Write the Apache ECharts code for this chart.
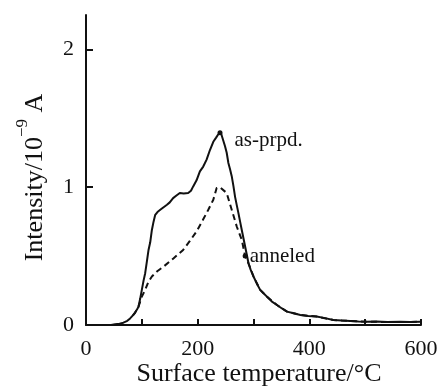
<!DOCTYPE html>
<html>
<head>
<meta charset="utf-8">
<script src="https://cdn.jsdelivr.net/npm/echarts@6/dist/echarts.min.js"></script>
<style>
  html, body { margin: 0; padding: 0; background: #fff; }
  #main { width: 441px; height: 386px; }
</style>
</head>
<body>
<div id="main"></div>
<script>
var chartDom = document.getElementById("main");
var myChart = echarts.init(chartDom);
var option;

// [surface temperature (°C), intensity (10^-9 A)]
const asPrpd = [
  [45, 0.0], [52, 0.005], [60, 0.01], [67, 0.017], [74, 0.03], [79, 0.048],
  [84, 0.07], [88, 0.09], [91, 0.11], [94, 0.133], [97, 0.19], [100, 0.255],
  [103, 0.32], [106, 0.376], [109, 0.46], [112, 0.545], [115, 0.6], [118, 0.69],
  [121, 0.75], [124, 0.8], [128, 0.82], [133, 0.836], [139, 0.855], [145, 0.873],
  [150, 0.89], [156, 0.921], [162, 0.94], [168, 0.958], [175, 0.955], [183, 0.958],
  [188, 0.975], [192, 1.006], [198, 1.05], [204, 1.115], [210, 1.15], [216, 1.2],
  [222, 1.27], [228, 1.33], [233, 1.36], [237, 1.385], [240, 1.395], [242, 1.39],
  [245, 1.35], [249, 1.297], [252, 1.25], [255, 1.176], [258, 1.13], [261, 1.08],
  [264, 1.01], [267, 0.93], [270, 0.87], [273, 0.812], [276, 0.75], [279, 0.69],
  [282, 0.63], [285, 0.57], [288, 0.51], [291, 0.448], [295, 0.4], [300, 0.352],
  [306, 0.3], [312, 0.255], [318, 0.23], [324, 0.206], [333, 0.17], [342, 0.145],
  [351, 0.12], [360, 0.097], [372, 0.085], [384, 0.073], [398, 0.066], [413, 0.061],
  [428, 0.05], [443, 0.036], [458, 0.032], [473, 0.029], [488, 0.026], [503, 0.024],
  [520, 0.025], [540, 0.022], [563, 0.024], [580, 0.022], [599, 0.024]
];
const anneled = [
  [84, 0.07], [88, 0.09], [94, 0.133], [100, 0.206], [106, 0.255], [112, 0.315],
  [118, 0.352], [127, 0.388], [139, 0.424], [157, 0.485], [174, 0.545], [186, 0.61],
  [198, 0.679], [209, 0.76], [219, 0.836], [228, 0.909], [234, 0.994], [240, 1.0],
  [243, 0.994], [252, 0.958], [261, 0.836], [270, 0.715], [279, 0.618], [285, 0.5],
  [291, 0.448], [300, 0.352], [312, 0.255], [324, 0.206], [342, 0.145], [360, 0.097],
  [384, 0.073], [413, 0.061], [443, 0.036], [473, 0.029], [503, 0.024], [540, 0.022],
  [580, 0.022], [599, 0.024]
];
const xLabels = [0, 200, 400, 600];
const yLabels = [0, 1, 2];
const asPrpdMark = [240, 1.395];
const anneledMark = [285, 0.5];

const font = "Liberation Serif";
const ink = "#111";

option = {
  animation: false,
  backgroundColor: "#fff",
  grid: {
    left: 86,
    right: 20,
    top: 15,
    bottom: 61,
    containLabel: false,
    outerBoundsMode: "none",
  },
  xAxis: {
    type: "value",
    min: 0,
    max: 600,
    interval: 100,
    name: "Surface temperature/°C",
    nameLocation: "middle",
    nameGap: 36,
    nameMoveOverlap: false,
    nameTextStyle: { fontFamily: font, fontSize: 26, color: ink, padding: [0, 0, 0, 11] },
    axisLine: { lineStyle: { color: ink, width: 2 } },
    // ticks point up into the plot
    axisTick: {
      show: true,
      inside: false,
      length: -6,
      lineStyle: { color: ink, width: 2 },
    },
    axisLabel: {
      showMinLabel: true,
      showMaxLabel: true,
      formatter: (v) => (xLabels.includes(v) ? String(v) : ""),
      fontFamily: font,
      fontSize: 22,
      color: ink,
      margin: 13,
    },
    splitLine: { show: false },
  },
  yAxis: {
    type: "value",
    min: 0,
    max: 2.25,
    name: "{a|Intensity/10}{s|−9}{a| A}",
    nameLocation: "middle",
    nameRotate: 90,
    nameGap: 38,
    nameMoveOverlap: false,
    nameTextStyle: {
      fontFamily: font,
      color: ink,
      padding: [0, 15, 0, 0],
      rich: {
        a: { fontFamily: font, fontSize: 26, color: ink, lineHeight: 26, verticalAlign: "bottom" },
        s: { fontFamily: font, fontSize: 17, color: ink, lineHeight: 34, verticalAlign: "top" },
      },
    },
    axisLine: { show: true, lineStyle: { color: ink, width: 2 } },
    // ticks point right into the plot
    axisTick: {
      show: true,
      inside: false,
      length: -7,
      customValues: yLabels,
      lineStyle: { color: ink, width: 2 },
    },
    axisLabel: {
      customValues: yLabels,
      fontFamily: font,
      fontSize: 22,
      color: ink,
      margin: 12,
      padding: [5, 0, 0, 0],
    },
    splitLine: { show: false },
  },
  series: [
    {
      name: "anneled",
      type: "line",
      data: anneled,
      showSymbol: false,
      lineStyle: { color: ink, width: 2, type: [6, 4] },
      markPoint: {
        symbol: "circle",
        symbolSize: 5,
        itemStyle: { color: ink },
        label: {
          show: true,
          position: "right",
          distance: 2,
          formatter: "anneled",
          fontFamily: font,
          fontSize: 21,
          color: ink,
        },
        data: [{ coord: anneledMark }],
      },
    },
    {
      name: "as-prpd.",
      type: "line",
      data: asPrpd,
      showSymbol: false,
      lineStyle: { color: ink, width: 2 },
      markPoint: {
        symbol: "circle",
        symbolSize: 5,
        itemStyle: { color: ink },
        label: {
          show: true,
          position: "right",
          distance: 2,
          offset: [10, 8],
          formatter: "as-prpd.",
          fontFamily: font,
          fontSize: 21,
          color: ink,
        },
        data: [{ coord: asPrpdMark }],
      },
    },
  ],
};

option && myChart.setOption(option);
</script>
</body>
</html>
